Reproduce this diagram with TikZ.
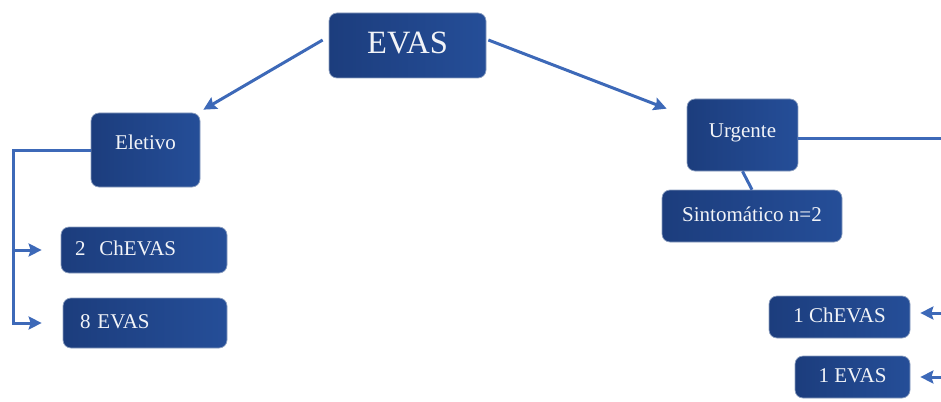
\documentclass[tikz,border=0pt]{standalone}
\usepackage{fontspec}
\setmainfont{Liberation Serif}
\usetikzlibrary{arrows.meta,calc}
\definecolor{navyL}{HTML}{1C3D7D}
\definecolor{navyR}{HTML}{254E98}
\definecolor{edgec}{HTML}{8C9FC0}
\definecolor{conn}{HTML}{3D69B8}
\definecolor{txt}{HTML}{F2F4F8}
\tikzset{
  box/.style={rounded corners=8pt, left color=navyL, right color=navyR, draw=edgec, line width=0.7pt,
    text=txt, font=\fontsize{21}{24}\selectfont, inner sep=0pt, text height=14pt, text depth=4pt},
  link/.style={draw=conn, line width=3pt},
  arr/.style={link, -{Stealth[length=13pt,width=13pt,inset=2pt]}}
}
\begin{document}
\begin{tikzpicture}[x=1pt,y=-1pt]
\useasboundingbox (0,0) rectangle (941,401);
\node[box, minimum width=157pt, minimum height=65pt, font=\fontsize{32.5}{36}\selectfont, text height=22pt, text depth=6pt] (evas) at (407.5,45.5) {EVAS};
\node[box, minimum width=109pt, minimum height=74pt, text depth=16pt] (elet) at (145.5,150) {Eletivo};
\node[box, minimum width=166pt, minimum height=46pt, text width=138pt, align=left, inner xsep=14pt] (ch2) at (144,250) {2~ ChEVAS};
\node[box, minimum width=164pt, minimum height=50pt, text width=130pt, align=left, inner xsep=17pt] (e8) at (145,323) {8 EVAS};
\node[box, minimum width=111pt, minimum height=72pt, text depth=10pt] (ur) at (742.5,135) {Urgente};
\node[box, minimum width=180pt, minimum height=52pt] (sint) at (752,216) {Sintomático n=2};
\node[box, minimum width=141pt, minimum height=42pt] (c1) at (839.5,317) {1 ChEVAS};
\node[box, minimum width=115pt, minimum height=42pt] (e1) at (852.5,377) {1 EVAS};
% connectors
\draw[arr] ($(evas.west)+(-6,-5.5)$) -- ($(elet.north east)+(3,-3)$);
\draw[arr] ($(evas.east)+(2,-5.5)$) -- ($(ur.north west)+(-20,10)$);
\coordinate (lb) at (13,325);
\draw[arr] (elet.west) -| (lb |- e8.west) -- ([xshift=-21pt]e8.west);
\draw[arr] (lb |- ch2.west) -- ([xshift=-19pt]ch2.west);
\coordinate (redge) at (946,135);
\draw[link] ([yshift=-3pt]ur.east) -- ([yshift=-3pt]ur.east -| redge);
\draw[arr] ($(redge |- c1.east)+(0,-4)$) -- ($(c1.east)+(10,-4)$);
\draw[arr] (redge |- e1.east) -- ([xshift=10pt]e1.east);
\draw[link] (ur.south) -- (sint.north);
\end{tikzpicture}
\end{document}
